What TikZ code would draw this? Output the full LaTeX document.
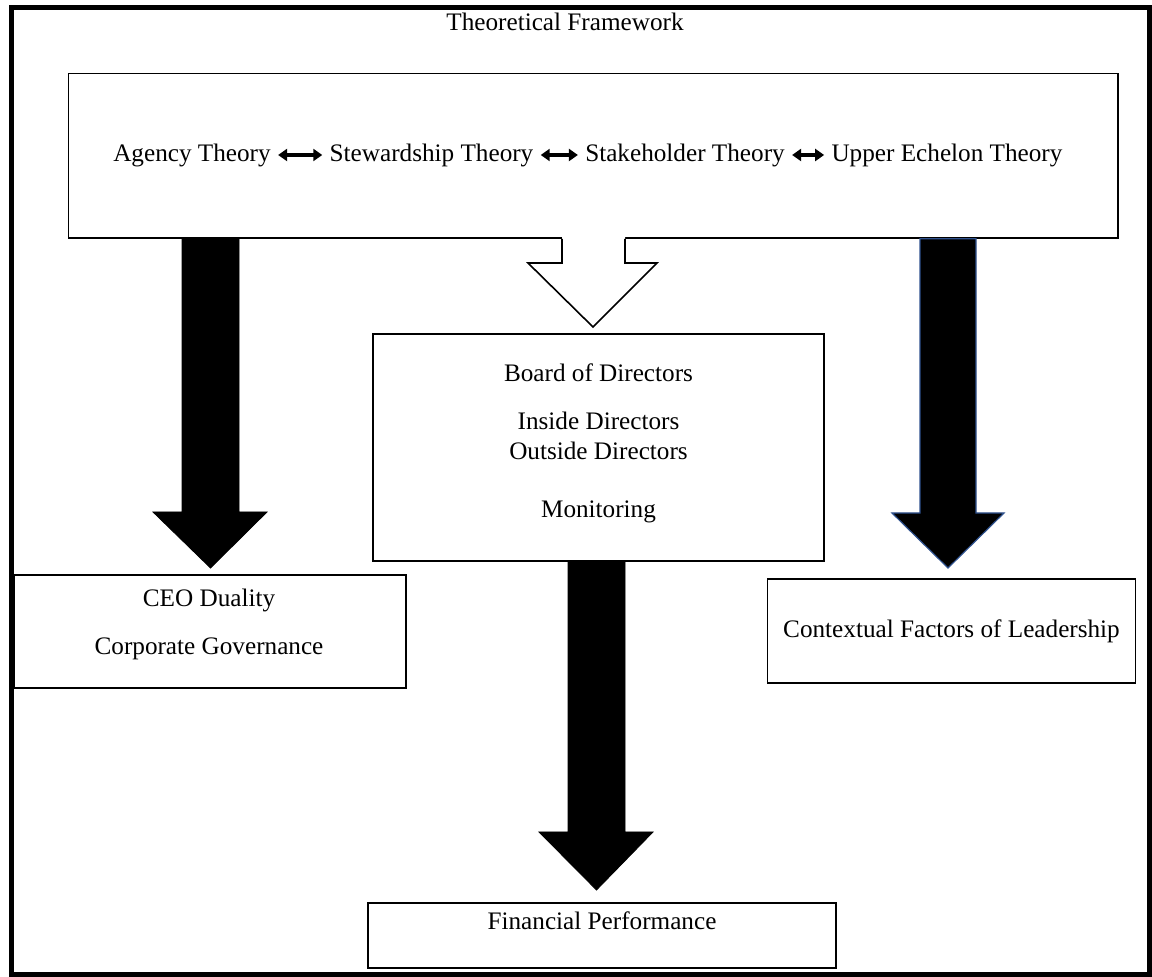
\documentclass[tikz,border=0pt]{standalone}
\usepackage{fontspec}
\setmainfont{Liberation Serif}
\usetikzlibrary{arrows.meta}
\definecolor{arrowblue}{HTML}{2F528F}
\tikzset{
  txt/.style={font=\fontsize{12.6}{15}\selectfont, inner sep=0pt, align=center},
  theory/.style={font=\fontsize{12.6}{15}\selectfont, inner sep=3.5pt},
  boxnode/.style={draw=black, line width=0.8pt, inner sep=0pt, fill=white},
  dblarrow/.style={line width=2pt, {Triangle[length=4.5pt,width=6pt]}-{Triangle[length=4.5pt,width=6pt]}},
  blk/.style={fill=black, draw=black, line width=0.4pt, line join=miter},
  blkblue/.style={fill=black, draw=arrowblue, line width=0.6pt, line join=miter},
  hollow/.style={draw=black, line width=0.8pt, line join=miter},
}
\begin{document}
\begin{tikzpicture}[x=0.5pt,y=-0.5pt]
\useasboundingbox (0,0) rectangle (1152,977);
% outer frame
\draw[line width=2.5pt] (11.5,7.5) rectangle (1149,974.5);
\node[txt] (title) at (565,22) {Theoretical Framework};

% top box
\node[boxnode, minimum width=524.75pt, minimum height=82.25pt] (frame) at (593.25,155.75) {};
\node[theory] (agency)  at (192,155)   {Agency Theory};
\node[theory] (steward) at (431.5,155) {Stewardship Theory};
\node[theory] (stake)   at (685,155)   {Stakeholder Theory};
\node[theory] (upper)   at (947,155)   {Upper Echelon Theory};
\draw[dblarrow] (agency.east) -- (steward.west);
\draw[dblarrow] (steward.east) -- (stake.west);
\draw[dblarrow] (stake.east) -- (upper.west);

% boxes
\node[boxnode, minimum width=225.5pt, minimum height=113.5pt] (board) at (598.5,447.5) {};
\node[txt] (boardtxt) at (598.5,443) {Board of Directors\\[9pt]Inside Directors\\Outside Directors\\[14pt]Monitoring};
\node[boxnode, minimum width=195.75pt, minimum height=56.5pt] (ceo) at (210.25,631.5) {};
\node[txt] (ceotxt) at (209,624) {CEO Duality\\[9pt]Corporate Governance};
\node[boxnode, minimum width=184pt, minimum height=52pt] (context) at (951.5,631) {};
\node[txt] (contexttxt) at (951.5,631) {Contextual Factors of Leadership};
\node[boxnode, minimum width=234pt, minimum height=32.5pt] (fin) at (602,935.5) {};
\node[txt] (fintxt) at (602,921) {Financial Performance};

% hollow arrow from the theory box to the board
\fill[white] (562,236) -- (562,263) -- (528,263) -- (593,327) -- (657,263) -- (625,263) -- (625,236) -- cycle;
\draw[hollow] (562,0 |- frame.south) -- (562,263) -- (528,263) -- (593,327) -- (657,263) -- (625,263) -- (625,0 |- frame.south);

% left black arrow
\draw[blk] (182,0 |- frame.south) -- (182,512) -- (153,512) -- (210.5,568) -- (267,512) -- (239,512) -- (239,0 |- frame.south) -- cycle;
% right black arrow with blue outline
\draw[blkblue] (920,0 |- frame.south) -- (920,513) -- (892,513) -- (948,568) -- (1004,513) -- (976,513) -- (976,0 |- frame.south) -- cycle;
% middle black arrow
\draw[blk] (568,0 |- board.south) -- (568,832) -- (539,832) -- (596.5,890) -- (653,832) -- (625,832) -- (625,0 |- board.south) -- cycle;
\end{tikzpicture}
\end{document}
